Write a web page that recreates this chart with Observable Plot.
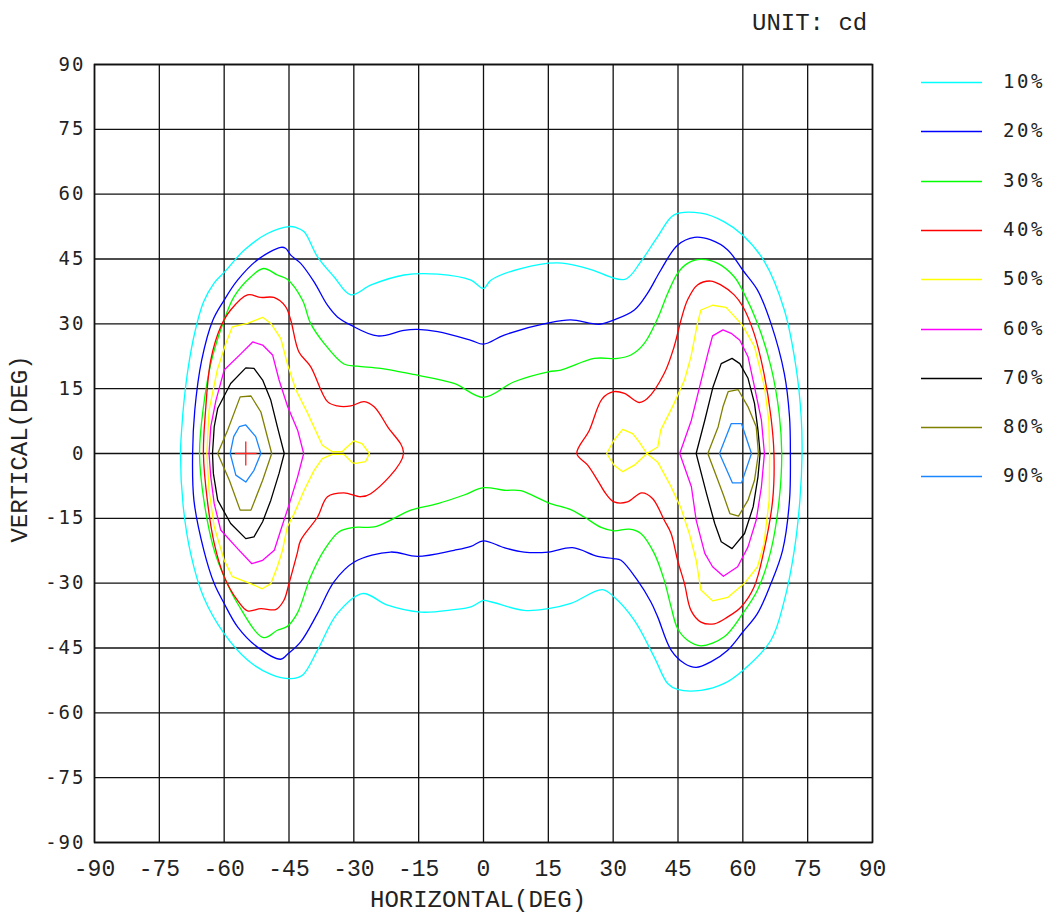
<!DOCTYPE html>
<html><head><meta charset="utf-8">
<script src="https://cdn.jsdelivr.net/npm/d3@7"></script>
<script src="https://cdn.jsdelivr.net/npm/@observablehq/plot@0.6"></script>
<style>
body{margin:0;background:#fff;}
#wrap{position:relative;width:1050px;height:917px;overflow:hidden;}
#wrap svg{position:absolute;left:0;top:0;}
.t{position:absolute;font-family:"Liberation Mono",monospace;font-size:24px;line-height:20px;color:#222;white-space:nowrap;}
.legt{position:absolute;left:1003px;font-family:"DejaVu Sans Mono",monospace;font-size:19px;line-height:19px;letter-spacing:2.5px;color:#222;}
g[aria-label="y-axis tick label"] text{letter-spacing:2px;}
</style></head><body><div id="wrap"></div><script>
// ---- data ----
const levels = ["10%","20%","30%","40%","50%","60%","70%","80%","90%"];
const colors = ["#00ffff","#0000ff","#00ff00","#ff0000","#ffff00","#ff00ff","#000000","#808000","#1a86ff"];
const ticks = [-90,-75,-60,-45,-30,-15,0,15,30,45,60,75,90];

const c10 = [[-70.1,0],[-69.8,6],[-69.3,12],[-68.3,20],[-66.8,28],[-64.8,35],[-62.3,39.5],[-60,41.9],[-55.4,47],[-50,50.9],[-45,52.5],[-43.4,52.3],[-41.5,51.3],[-38.4,45.5],[-34.6,40.9],[-30.7,36.7],[-26,39],[-18.4,41.3],[-10.6,41.5],[-2.9,40.1],[0,38.2],[1.7,40.1],[8.6,42.8],[17.1,44.1],[24.1,42.8],[32.7,40.3],[36.4,44.4],[40.3,50.2],[44.1,55.2],[50.3,55.6],[55.7,53.6],[60,50.5],[65,44.4],[69.6,33.2],[72.3,20],[73.5,8.5],[73.7,0],[73.2,-10.8],[71.9,-22.4],[69.6,-34],[66.5,-43.2],[60,-50.2],[55.7,-53.2],[50.3,-54.8],[44.9,-54.6],[42.6,-53.2],[39.5,-47.1],[34.9,-38.6],[30.2,-33.2],[27.5,-31.5],[20.2,-34.7],[15,-35.9],[9.4,-36.3],[1.7,-34.3],[0,-34],[-2.9,-35.5],[-6.8,-36.1],[-14.5,-36.7],[-22.2,-35.1],[-28,-32.4],[-33.8,-37],[-38.4,-45.5],[-41.9,-51.3],[-44.6,-52.1],[-49.2,-51.1],[-54.6,-47.8],[-60,-41.7],[-64.7,-33.4],[-67.7,-23.4],[-69.5,-12]];
const c20 = [[-67.3,0],[-66.8,10],[-65.2,21.6],[-62.6,30.9],[-60,35.5],[-56.9,40.1],[-52.3,44.8],[-46.9,47.7],[-45.8,47.5],[-44.6,45.9],[-42.3,44],[-39.2,39.7],[-36.1,34.3],[-33.8,31.6],[-30.7,29.7],[-24.5,27.2],[-18.4,28.5],[-15.3,28.7],[-10.6,28.2],[-2.9,26.2],[0,25.3],[4.8,27.4],[15,30.2],[20.2,30.9],[26.8,29.9],[30.2,30.9],[34.9,33.2],[37.9,37],[41,42.4],[44.9,48.2],[48.8,50],[52.6,49.4],[56.5,47.1],[60,42.4],[63.4,37.8],[66.5,30.1],[69.6,18.5],[70.8,8.5],[71,0],[70.8,-10.8],[69.2,-22.4],[66.5,-30.1],[63.4,-37],[60,-41.3],[56.5,-45.5],[52.6,-48.2],[49.2,-49.5],[46.5,-48.6],[43.4,-45.5],[40.3,-37.8],[38.7,-34.3],[35.6,-29.3],[31.8,-24.7],[30.1,-24.3],[26.4,-23.8],[20.6,-21.8],[15,-22.8],[9.4,-22.8],[4.8,-21.8],[0,-20.2],[-2.9,-21.5],[-6.8,-22.4],[-15.3,-23.8],[-21.5,-22.8],[-29.9,-25.1],[-34.6,-29.7],[-38.4,-37],[-42.3,-43.6],[-45.4,-46.5],[-46.9,-47.6],[-52.3,-44.8],[-56.9,-40.1],[-60,-34.7],[-62.3,-30.1],[-64.7,-22.4],[-67,-10.8]];
const c30 = [[-65.7,0],[-64.9,10],[-62.9,21.6],[-60,30.9],[-57.7,36.3],[-53.8,40.9],[-50.9,42.8],[-47.7,41.3],[-45.4,40.3],[-41.9,35.5],[-40,30.1],[-36.9,25.5],[-32.3,20.7],[-29.2,20.2],[-23.8,19.7],[-16.8,18.4],[-6.8,16.2],[0,13],[7.1,16.6],[15,18.9],[17.9,19.3],[25.6,22],[31,22],[34.1,22.8],[37.2,25.5],[40.3,31.3],[42.6,37],[44.9,41.7],[47.2,44],[50.3,44.9],[54.2,44],[58,40.9],[60.3,37],[63.4,30.1],[66.5,20.1],[68.4,9.3],[69,0],[68.4,-10.8],[66.5,-22.4],[63.4,-31.6],[60,-37],[55.7,-42.4],[50.3,-44.5],[47.2,-43.2],[44.9,-40.5],[43.4,-35.5],[41.8,-29.3],[39.5,-23.1],[36.4,-18.5],[33.7,-17.5],[30.2,-17.9],[27.2,-17.1],[23.3,-14.7],[20.2,-13],[15,-11.4],[8.6,-8.6],[4.8,-8.5],[0,-7.9],[-4.5,-9.6],[-10.6,-11.6],[-16.8,-13.1],[-21.5,-15.4],[-25.3,-17],[-29.9,-17.1],[-33.4,-18.1],[-36.9,-22.4],[-40,-28.5],[-43.1,-37],[-45.4,-40],[-47.7,-40.9],[-50.9,-42.6],[-56.9,-34.7],[-60,-28.5],[-62.3,-22.4],[-64.7,-10.8]];
const c40a = [[-64.8,0],[-64.3,10],[-63.1,21.6],[-60.8,29.3],[-58.5,33.2],[-54.6,36.7],[-51.5,36.1],[-48.5,36.1],[-45.8,34],[-44.6,30.9],[-42.7,23.5],[-40,20.1],[-36.1,12],[-33.8,11],[-30.7,11],[-27.6,12],[-25.3,10.8],[-22.2,6.2],[-18.5,0],[-26.1,-9.3],[-28.4,-10],[-32.3,-9.1],[-36.1,-10],[-38.4,-14.7],[-42.3,-20.1],[-43.1,-23.1],[-45,-30.1],[-46.2,-34],[-48.1,-36.1],[-51.5,-35.9],[-54.6,-36.4],[-56.9,-34],[-60,-28.5],[-62.3,-20.8],[-63.9,-10.8]];
const c40b = [[21.6,0],[24.5,5.4],[27.5,12.7],[30.1,14.3],[32.6,13.9],[36,11.8],[37.9,12.7],[41.8,18.5],[44.1,24.7],[45.7,30.9],[47.2,35.5],[49.5,39],[52.6,39.9],[54.9,39],[58,36.7],[60,34],[62.6,27.8],[64.9,18.5],[66.5,8.5],[67.2,0],[66.9,-10.8],[64.9,-22.4],[62.6,-30.9],[59.6,-35.5],[56.5,-37.8],[53.4,-39.4],[50.3,-39],[48,-36.3],[46.5,-30.1],[44.9,-24.7],[43.4,-18.5],[41.8,-15.4],[39.1,-10.4],[36.6,-9.1],[33.3,-11.2],[30.2,-11.2],[28.3,-9.3],[26.4,-6.2],[24.1,-2.7]];
const c50a = [[-64,0],[-63.5,10],[-61.6,19.3],[-59.6,25.5],[-58.1,29.3],[-54.6,30.1],[-51.1,31.5],[-49.2,30.1],[-46.9,26.6],[-45.4,20.8],[-43.4,14.7],[-40.7,9.3],[-37.3,1.9],[-35,0.4],[-32.7,0.4],[-31.9,1.2],[-30,2.9],[-28.1,2.3],[-26.4,0],[-27.3,-1.9],[-29.6,-2.3],[-30.4,-2.1],[-32.3,-0.2],[-35,-0.2],[-37.3,-1.2],[-39.2,-3.9],[-41.5,-8.5],[-43.8,-13.9],[-45.4,-17],[-46.5,-22.4],[-47.7,-26.2],[-49.2,-30.1],[-51.2,-31.3],[-53.9,-30.1],[-58.1,-28.5],[-60,-24.7],[-62.3,-17],[-63.5,-8.5]];
const c50b = [[66.2,0],[66.1,-10.8],[64.9,-20.8],[63.4,-26.2],[60.3,-30.1],[56.5,-33.3],[53,-34.1],[50.3,-31.6],[49.2,-24.7],[47.6,-18.5],[45.7,-12.7],[43.4,-7.7],[40.3,-2],[37.8,0],[34.9,-2.7],[32.2,-4.2],[30.2,-2.7],[28.5,0],[30.2,3.1],[32.2,5.6],[34.5,4.6],[36,2.7],[37.8,0],[40.3,1.5],[41,5.4],[44.1,11.6],[46.5,17],[48,22.4],[49.5,30.1],[50.3,33.2],[53,34.3],[56.1,33.8],[59.9,29.7],[62.7,24.7],[65,15.4],[66,7.7]];
const c60a = [[-63.5,0],[-63.1,6.2],[-61.9,12.3],[-60,19.3],[-56.1,23.1],[-53.4,25.8],[-51.1,25.1],[-48.8,22.8],[-47.3,17],[-45.3,10.8],[-43,5.4],[-41.6,0],[-43,-5.4],[-44.9,-11.6],[-46.9,-17.7],[-48.4,-22.4],[-51.1,-24.7],[-53.6,-25.5],[-56.9,-22],[-60.8,-17.7],[-62.3,-11.6],[-63.1,-5.4]];
const c60b = [[45.4,0],[48.1,7.7],[50,15.4],[51.9,23.1],[53,27.2],[55.4,28.6],[57.3,27.8],[59.3,26.2],[61.2,22.4],[62.7,15.4],[64.3,7.7],[65,0],[64.3,-7.7],[63.1,-15.4],[61.2,-21.6],[58.8,-26.2],[55.5,-28.4],[53,-26.2],[51.2,-23.1],[49.2,-15.4],[48.1,-7.7]];
const c70a = [[-62.7,0],[-62.3,6.2],[-61.5,10.4],[-58.5,16.2],[-55,19.8],[-53.1,19.7],[-51.1,17],[-49.2,12.3],[-47.7,6.2],[-46.1,0],[-47.3,-4.6],[-49.2,-10.8],[-51.1,-15.8],[-53.1,-19.3],[-55,-19.7],[-58.5,-16.2],[-61.5,-10.8],[-62.5,-4.6]];
const c70b = [[49.2,0],[51.2,7.7],[53.1,15.4],[55,20.8],[57.5,22],[59.3,20.8],[61.2,17.4],[62.7,11.6],[63.5,5.4],[64,0],[63.5,-5.4],[62.4,-12.3],[60.4,-18.5],[57.5,-22],[55,-20.4],[53.5,-16.2],[51.6,-9.3]];
const c80a = [[-61.5,0],[-59.2,5.4],[-56.3,13.1],[-53.8,13.3],[-51.5,9.6],[-49,0],[-51.1,-6.2],[-53.8,-13.1],[-56.3,-13.1],[-58.8,-6.2]];
const c80b = [[51.9,0],[54.3,6.2],[55.4,10.8],[56.6,14.3],[58.9,14.8],[61.2,10.8],[63.1,6.2],[63.6,0],[62.7,-6.2],[61.2,-10.8],[59,-14.5],[57,-13.9],[55.4,-9.3]];
const c90a = [[-58.6,0],[-57.8,3.9],[-56.5,6.2],[-55,6.6],[-52.7,3.9],[-51.5,0],[-53.1,-3.9],[-55,-6.6],[-57.3,-5]];
const c90b = [[54.6,0],[57.3,6.9],[59.7,6.9],[62,0],[59.7,-6.8],[57.6,-6.8]];
const peakH = [-55], peakV = [0];

const loops = [
  ["10%",c10],["20%",c20],["30%",c30],["40%",c40a],["40%",c40b],["50%",c50a],["50%",c50b],
  ["60%",c60a],["60%",c60b],["70%",c70a],["70%",c70b],["80%",c80a],["80%",c80b],["90%",c90a],["90%",c90b]
];
const smoothLevels = new Set(["10%","20%","30%","40%"]);
const smoothRows = [], sharpRows = [];
loops.forEach(([lvl, pts], i) => {
  const target = smoothLevels.has(lvl) ? smoothRows : sharpRows;
  pts.forEach(([h, v]) => target.push({id: i, level: lvl, h, v}));
});
const peaks = peakH.map((h, i) => ({h, v: peakV[i]}));

const fmt = d => String(d);
const plot = Plot.plot({
  width: 1050, height: 917,
  marginLeft: 94, marginRight: 178, marginTop: 64, marginBottom: 75,
  x: {domain: [-90, 90]},
  y: {domain: [-90, 90]},
  color: {domain: levels, range: colors},
  style: {background: "white"},
  marks: [
    Plot.gridX(ticks, {stroke: "#111", strokeOpacity: 1, strokeWidth: 1.3}),
    Plot.gridY(ticks, {stroke: "#111", strokeOpacity: 1, strokeWidth: 1.3}),
    Plot.frame({stroke: "#111", strokeWidth: 1.6}),
    Plot.line(smoothRows, {x: "h", y: "v", z: "id", stroke: "level", strokeWidth: 1.3, curve: "catmull-rom-closed"}),
    Plot.line(sharpRows, {x: "h", y: "v", z: "id", stroke: "level", strokeWidth: 1.3, curve: "linear-closed"}),
    Plot.link(peaks, {x1: d => d.h - 2.5, x2: d => d.h + 2.5, y1: "v", y2: "v", stroke: "#ff2020", strokeWidth: 1.3}),
    Plot.link(peaks, {x1: "h", x2: "h", y1: d => d.v - 2.8, y2: d => d.v + 2.8, stroke: "#ff2020", strokeWidth: 1.3}),
    Plot.axisX(ticks, {tickSize: 0, tickPadding: 17, tickFormat: fmt, fontSize: 23, fontFamily: "Liberation Mono", fill: "#222", label: null}),
    Plot.axisY(ticks, {tickSize: 0, tickPadding: 9, tickFormat: fmt, fontSize: 19, fontFamily: "DejaVu Sans Mono", fill: "#222", label: null})
  ]
});
const wrap = document.getElementById("wrap");
wrap.appendChild(plot);

function addText(txt, css, cls = "t") {
  const d = document.createElement("div");
  d.className = cls; d.textContent = txt;
  Object.assign(d.style, css);
  wrap.appendChild(d);
  return d;
}
addText("UNIT: cd", {left: "752px", top: "14px"});
addText("HORIZONTAL(DEG)", {left: "370px", top: "891px"});
addText("VERTICAL(DEG)", {left: "21px", top: "449px", transform: "translate(-50%,-50%) rotate(-90deg)", transformOrigin: "center"});

// legend: small svg with line swatches
const NS = "http://www.w3.org/2000/svg";
const lsvg = document.createElementNS(NS, "svg");
lsvg.setAttribute("width", 1050); lsvg.setAttribute("height", 917);
lsvg.style.pointerEvents = "none";
levels.forEach((lvl, i) => {
  const y = Math.round(82 + i * 49.3) + 0.5;
  const ln = document.createElementNS(NS, "line");
  ln.setAttribute("x1", 921); ln.setAttribute("x2", 982);
  ln.setAttribute("y1", y); ln.setAttribute("y2", y);
  ln.setAttribute("stroke", colors[i]); ln.setAttribute("stroke-width", 1.4);
  lsvg.appendChild(ln);
  addText(lvl, {top: (y - 10.5) + "px"}, "legt");
});
wrap.appendChild(lsvg);
</script></body></html>
